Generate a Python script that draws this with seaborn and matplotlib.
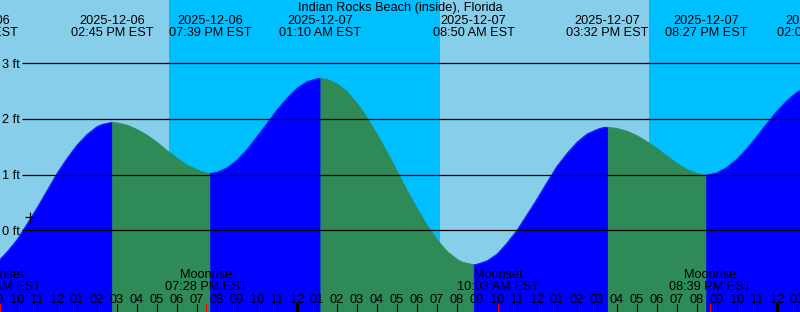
import matplotlib
matplotlib.use("Agg")
import matplotlib.pyplot as plt
import matplotlib.transforms as mtransforms
import seaborn as sns
import pandas as pd

# ---------------- data (hours relative to 2025-12-07 00:00 EST) ----------------
title = "Indian Rocks Beach (inside), Florida"

tide_hours = [-16, -15.5, -15, -14.5, -14, -13.5, -13, -12.5, -12, -11.5, -11,
              -10.5, -10, -9.75, -9.25,
              -9, -8.5, -8, -7.5, -7, -6.5, -6, -5.5, -5, -4.75, -4.35,
              -4, -3.5, -3, -2.5, -2, -1.5, -1, -0.5, 0, 0.5, 1, 1.1667,
              1.5, 2, 2.5, 3, 3.5, 4, 4.5, 5, 5.5, 6, 6.5, 7, 7.5, 8, 8.25, 8.8333,
              9, 9.5, 10, 10.5, 11, 11.5, 12, 12.5, 13, 13.5, 14, 14.5, 15, 15.25, 15.5333,
              16, 16.5, 17, 17.5, 18, 18.5, 19, 19.5, 20, 20.25, 20.45,
              21, 21.5, 22, 22.5, 23, 23.5, 24, 24.5, 25, 25.5, 26.05]
tide_ft = [-0.68, -0.64, -0.58, -0.39, -0.17, 0.11, 0.40, 0.71, 1.02, 1.29, 1.53,
           1.72, 1.86, 1.90, 1.94,
           1.93, 1.89, 1.81, 1.71, 1.58, 1.43, 1.30, 1.17, 1.09, 1.05, 1.02,
           1.04, 1.12, 1.26, 1.45, 1.68, 1.92, 2.16, 2.37, 2.55, 2.67, 2.72, 2.73,
           2.71, 2.63, 2.49, 2.28, 2.02, 1.72, 1.40, 1.06, 0.71, 0.39, 0.09, -0.17,
           -0.38, -0.52, -0.57, -0.62,
           -0.61, -0.55, -0.43, -0.23, 0.00, 0.28, 0.56, 0.86, 1.15, 1.38, 1.58,
           1.73, 1.81, 1.84, 1.85,
           1.83, 1.78, 1.70, 1.59, 1.47, 1.33, 1.20, 1.09, 1.02, 1.00, 0.99,
           1.03, 1.13, 1.28, 1.47, 1.69, 1.92, 2.14, 2.33, 2.48, 2.58, 2.62]

ext_hours = [-16.0, -9.25, -4.35, 1.1667, 8.8333, 15.5333, 20.45, 26.05]
ext_dates = ["2025-12-06", "2025-12-06", "2025-12-06", "2025-12-07",
             "2025-12-07", "2025-12-07", "2025-12-07", "2025-12-08"]
ext_times = ["08:00 AM EST", "02:45 PM EST", "07:39 PM EST", "01:10 AM EST",
             "08:50 AM EST", "03:32 PM EST", "08:27 PM EST", "02:03 AM EST"]

sun_hours = [-6.4, 7.15, 17.6]          # sunset, sunrise, sunset

moon_hours = [-14.87, -4.533, 10.05, 20.65]
moon_names = ["Moonset", "Moonrise", "Moonset", "Moonrise"]
moon_times = ["09:08 AM EST", "07:28 PM EST", "10:03 AM EST", "08:39 PM EST"]

hour_ticks = list(range(-15, 26))
hour_labels = ["09", "10", "11", "12", "01", "02", "03", "04", "05", "06", "07",
               "08", "09", "10", "11", "12", "01", "02", "03", "04", "05", "06",
               "07", "08", "09", "10", "11", "12", "01", "02", "03", "04", "05",
               "06", "07", "08", "09", "10", "11", "12", "01"]
midnight_hours = [0, 24]

ft_levels = [0, 1, 2, 3]
ft_labels = ["0 ft", "1 ft", "2 ft", "3 ft"]

mark_hour = [-13.35]
mark_ft = [0.23]

# ---------------- style ----------------
DAY = "#87CEEB"
NIGHT = "#00BFFF"
RISE = "#0000FF"
FALL = "#2E8B57"

sns.set_theme(style="white")
plt.rcParams["font.family"] = ["Liberation Sans", "DejaVu Sans"]
FS = 9.2

fig = plt.figure(figsize=(8, 3.12), dpi=100)
ax = fig.add_axes([0, 0, 1, 1])
x_lo, x_hi = -14.85, 25.15
y_lo, y_hi = -1.467, 4.135
bt = mtransforms.blended_transform_factory(ax.transData, ax.transAxes)
bt2 = mtransforms.blended_transform_factory(ax.transAxes, ax.transData)

# day / night background
edges = [x_lo - 5] + sun_hours + [x_hi + 5]
for i in range(len(edges) - 1):
    ax.axvspan(edges[i], edges[i + 1], color=DAY if i % 2 == 0 else NIGHT,
               lw=0, zorder=0)

# tide fill
df = pd.DataFrame({"hour": tide_hours, "ft": tide_ft})
for a, b in zip(ext_hours[:-1], ext_hours[1:]):
    seg = df[(df.hour >= a - 1e-6) & (df.hour <= b + 1e-6)]
    c = RISE if seg.ft.iloc[-1] > seg.ft.iloc[0] else FALL
    ax.fill_between(seg.hour, seg.ft, y_lo - 1, facecolor=c, edgecolor=c,
                    lw=0.4, zorder=1)
    sns.lineplot(data=seg, x="hour", y="ft", ax=ax, color=c, lw=0.6,
                 sort=False, estimator=None, legend=False, zorder=1.1)
ax.set_xlim(x_lo, x_hi)
ax.set_ylim(y_lo, y_hi)
ax.set_axis_off()

# depth lines and labels
ax.hlines(ft_levels, -13.75, x_hi + 1, color="black", lw=0.9, zorder=2)
for lv, lab in zip(ft_levels, ft_labels):
    ax.text(0.003, lv - 0.077, lab, transform=bt2, ha="left", va="baseline",
            fontsize=FS, color="black", zorder=3)

# mark
ax.plot(mark_hour, mark_ft, ls="none", marker="+", ms=7, mew=0.9,
        color="black", zorder=3)

# title and extreme labels
ax.text(0.5, 0.9638, title, transform=ax.transAxes, ha="center",
        va="baseline", fontsize=FS, color="black", zorder=3)
for h, d, t in zip(ext_hours, ext_dates, ext_times):
    ax.text(h, 0.9231, d, transform=bt, ha="center", va="baseline",
            fontsize=FS, color="black", zorder=3)
    ax.text(h, 0.8846, t, transform=bt, ha="center", va="baseline",
            fontsize=FS, color="black", zorder=3)

# moon labels and ticks
for h, n, t in zip(moon_hours, moon_names, moon_times):
    ax.text(h, 0.108, n, transform=bt, ha="center", va="baseline",
            fontsize=FS, color="black", zorder=3)
    ax.text(h, 0.0705, t, transform=bt, ha="center", va="baseline",
            fontsize=FS, color="black", zorder=3)
    ax.axvline(h, 0, 0.027, color="red", lw=0.9, zorder=3)

# hour ticks and labels
for h, lab in zip(hour_ticks, hour_labels):
    ax.text(h, 0.0298, lab, transform=bt, ha="center", va="baseline",
            fontsize=FS, color="black", zorder=3)
    ax.axvline(h, 0, 0.0256, color="black",
               lw=2.2 if h in midnight_hours else 0.8, zorder=3)

fig.savefig("out.png", dpi=100)
